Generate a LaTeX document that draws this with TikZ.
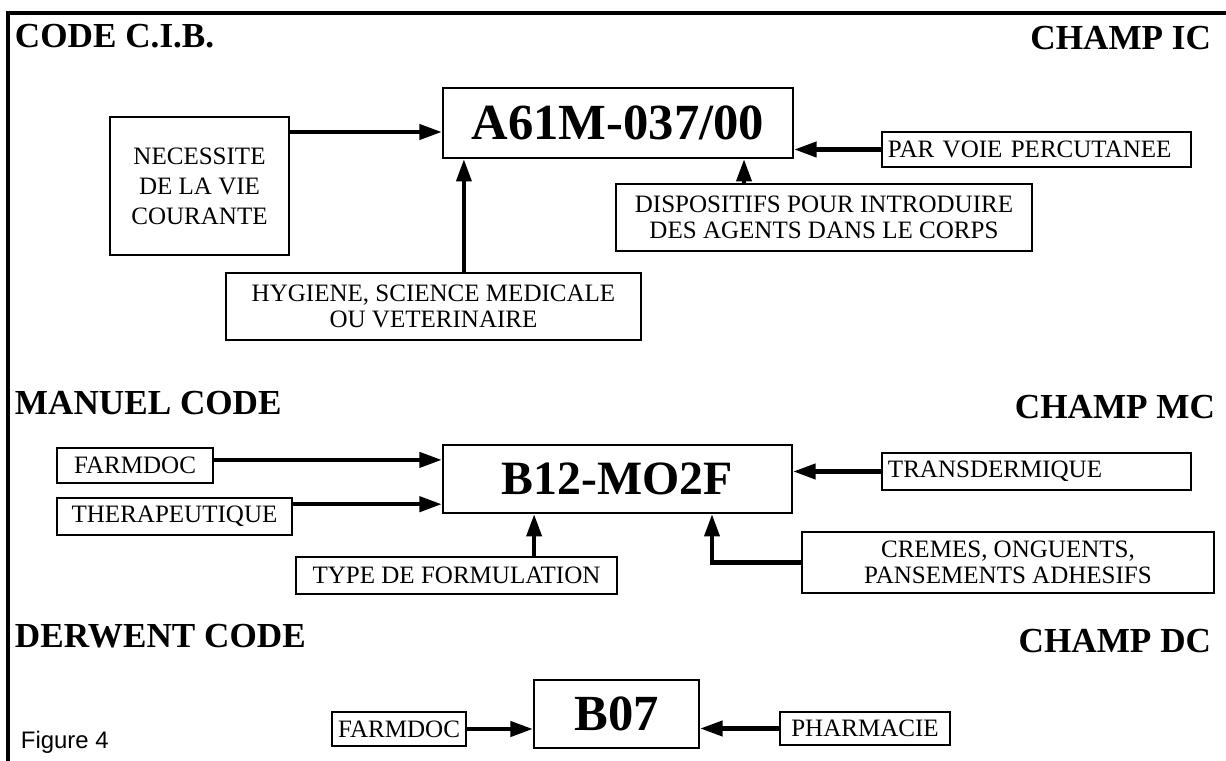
\documentclass[tikz,border=0pt]{standalone}
\usepackage{fontspec}
\setmainfont{Liberation Serif}
\newfontfamily\capfont{Liberation Sans}
\usetikzlibrary{arrows.meta}
\tikzset{
  every picture/.style={line width=1.4pt},
  box/.style={draw, inner sep=0pt, align=center, font=\fontsize{17.8}{18.9}\selectfont},
  tag/.style={box, align=left, inner xsep=0.15cm},
  codebox/.style={draw, inner sep=0pt, font=\bfseries\fontsize{#1}{#1}\selectfont},
  codebox/.default=35,
  title/.style={inner sep=0pt, font=\bfseries\fontsize{25}{25}\selectfont},
  arrow/.style={-{Triangle[length=16pt, width=10.5pt]}, line width=3.2pt},
  framelines/.style={line width=2.6pt},
}

\begin{document}
\begin{tikzpicture}[x=0.025cm, y=-0.025cm]
  \useasboundingbox (0,0) rectangle (1226,761);
  \draw[framelines] (1226,13) -- (8,13) -- (8,761);
  % classification CIB
  \node[title, anchor=base west] (cib) at (14,48) {CODE C.I.B.};
  \node[title, anchor=base east] (champic) at (1212,50) {CHAMP IC};
  \node[codebox=36, minimum width=8.75cm, minimum height=1.75cm] (a61m) at (618,123) {A61M-037/00};
  \node[box, minimum width=4.475cm, minimum height=3.45cm, font=\fontsize{17.8}{21.3}\selectfont] (nec) at (199.5,186) {NECESSITE\\ DE LA VIE\\ COURANTE};
  \node[box, minimum width=10.375cm, minimum height=1.675cm] (hyg) at (433.5,306.5) {HYGIENE, SCIENCE MEDICALE\\ OU VETERINAIRE};
  \node[box, minimum width=10.4cm, minimum height=1.675cm] (disp) at (824,217.5) {DISPOSITIFS POUR INTRODUIRE\\ DES AGENTS DANS LE CORPS};
  \node[tag, text width=7.425cm, minimum height=0.875cm] (par) at (1036.5,149.5) {PAR VOIE PERCUTANEE};
  \coordinate (necout) at ([yshift=-0.4cm]nec.north east);
  \coordinate (hygout) at ([xshift=0.76cm]hyg.north);
  \coordinate (dispin) at ([xshift=-1.25cm]a61m.south east);
  \draw[arrow] (necout) -- (necout -| a61m.west);
  \draw[arrow] (hygout) -- (hygout |- a61m.south);
  \draw[arrow] (dispin |- disp.north) -- (dispin);
  \draw[arrow] (par.west) -- (par.west -| a61m.east);
  % manual code
  \node[title, anchor=base west] (manuel) at (14,415) {MANUEL CODE};
  \node[title, anchor=base east] (champmc) at (1216,419) {CHAMP MC};
  \node[codebox=34, minimum width=8.725cm, minimum height=1.7cm] (b12) at (617.5,479) {B12-MO2F};
  \node[box, minimum width=3.9cm, minimum height=0.875cm] (farm1) at (135,465.5) {FARMDOC};
  \node[box, minimum width=5.875cm, minimum height=0.925cm] (ther) at (174.5,516.5) {THERAPEUTIQUE};
  \node[tag, text width=7.425cm, minimum height=0.925cm] (trans) at (1036.5,471.5) {TRANSDERMIQUE};
  \node[box, minimum width=8.025cm, minimum height=0.925cm] (type) at (456.5,575.5) {TYPE DE FORMULATION};
  \node[box, minimum width=10.3cm, minimum height=1.525cm] (cremes) at (1008,562.5) {CREMES, ONGUENTS,\\ PANSEMENTS ADHESIFS};
  \coordinate (farmout) at ([yshift=0.14cm]farm1.east);
  \coordinate (therout) at ([yshift=-0.18cm]ther.north east);
  \coordinate (typeout) at ([xshift=1.94cm]type.north);
  \coordinate (cremin) at ([xshift=-2.025cm]b12.south east);
  \draw[arrow] (farmout) -- (farmout -| b12.west);
  \draw[arrow] (therout) -- (therout -| b12.west);
  \draw[arrow] (trans.west) -- (trans.west -| b12.east);
  \draw[arrow] (typeout) -- (typeout |- b12.south);
  \draw[arrow] (cremes.west) -| (cremin);
  % derwent code
  \node[title, anchor=base west] (derwent) at (14,647) {DERWENT CODE};
  \node[title, anchor=base east] (champdc) at (1212,652) {CHAMP DC};
  \node[codebox=36, minimum width=4.125cm, minimum height=1.7cm] (b07) at (616.5,714) {B07};
  \node[box, minimum width=3.35cm, minimum height=0.85cm] (farm2) at (399,729) {FARMDOC};
  \node[box, minimum width=4.25cm, minimum height=0.825cm] (pharm) at (865,728.5) {PHARMACIE};
  \draw[arrow] (farm2.east) -- (farm2.east -| b07.west);
  \draw[arrow] (pharm.west) -- (pharm.west -| b07.east);
  \node[anchor=base west, inner sep=0pt, font=\capfont\fontsize{17}{17}\selectfont] (fig) at (20,748) {Figure 4};
\end{tikzpicture}
\end{document}
